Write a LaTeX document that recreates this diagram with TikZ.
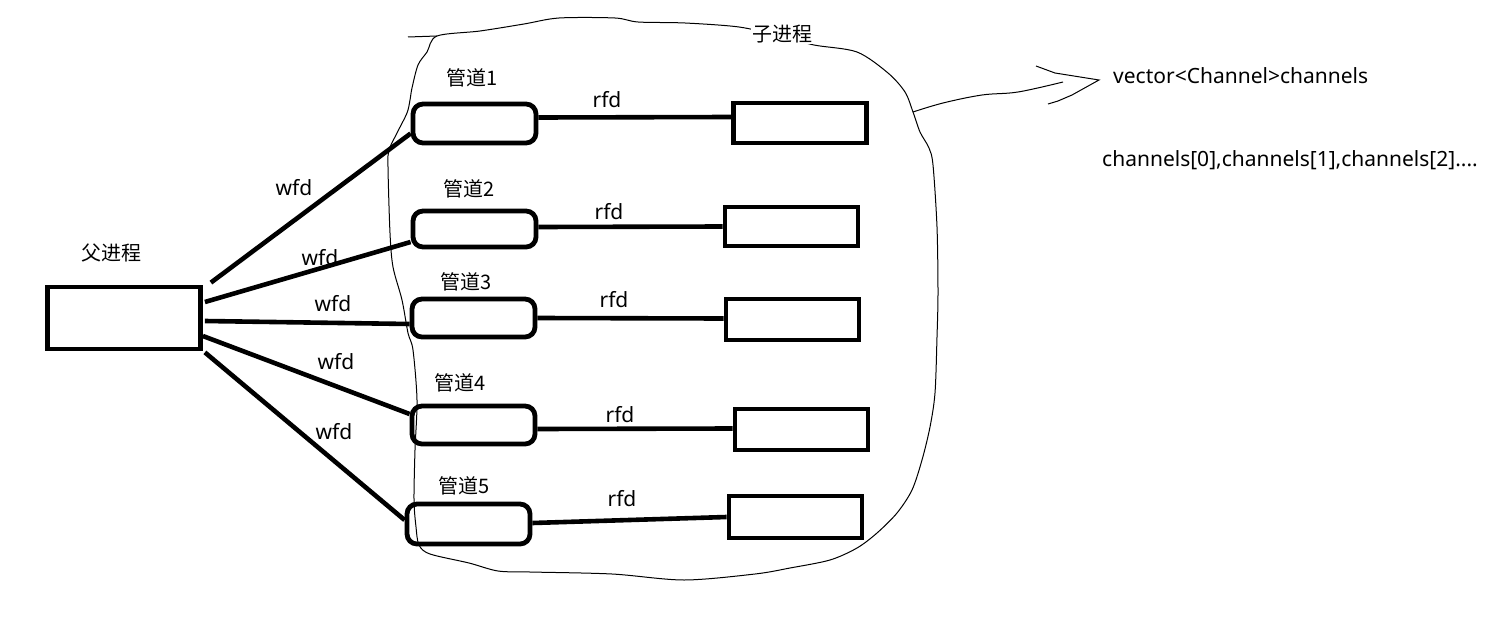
\documentclass[tikz,border=0pt]{standalone}
\usepackage{fontspec}
\setmainfont{Noto Sans}
\newfontfamily\cjk{Noto Sans CJK SC}
\begin{document}
\begin{tikzpicture}[x=1pt,y=-1pt,
  proc/.style={draw, line width=4.8pt, inner sep=0pt, minimum height=#1},
  pipe/.style={draw, line width=4.8pt, rounded corners=10pt, inner sep=0pt, minimum width=123pt, minimum height=#1},
  conn/.style={line width=4.6pt},
  thin line/.style={line width=1pt},
  lbl/.style={font=\fontsize{21}{24}\selectfont, inner sep=0pt},
  cn/.style={font=\cjk\fontsize{20}{24}\selectfont, inner sep=0pt}]
\useasboundingbox (0,0) rectangle (1491,626);
% blob (child processes)
\draw[thin line] plot[smooth cycle, tension=0.5] coordinates {
(437,36) (480,31) (524,24) (559,18) (615,18) (638,22) (685,23) (739,27) (780,36) (814,45) (857,52) (888,73) (905,92) (913,112) (920,132) (929,148) (933,165) (937,227) (938,293) (937,337) (935,393) (930,427) (922,460) (912,490) (897,513) (877,533) (857,548) (830,560) (790,568) (755,574) (684,580) (612,574) (530,572) (498,571) (469,563) (430,554) (419,545) (416,527) (414,500) (415,450) (417,400) (413,350) (408,333) (402,300) (393,267) (390,233) (388,167) (389,150) (397,133) (407,113) (410,100) (412,88) (418,65) (427,52)};
\draw[thin line] (408,37) -- (437,36);
% arrow
\coordinate (as) at (913,112);
\coordinate (tip) at (1099,80);
\draw[thin line] plot[smooth, tension=0.6] coordinates {(as) (943,103) (982,95) (1018,92) (1063,82)};
\draw[thin line] (1036,66) -- (1055,73) -- (tip) -- (1072,95) -- (1058,101) -- (1048,104);
% parent
\node[proc=62pt, minimum width=153pt] (par) at (124,318) {};
\node[cn] (parl) at (111,253) {父进程};
% pipes
\node[pipe=39pt] (p1) at (474.5,123.5) {};
\node[pipe=36pt] (p2) at (474.5,229) {};
\node[pipe=38pt] (p3) at (473.5,318) {};
\node[pipe=38pt] (p4) at (473.5,425) {};
\node[pipe=40pt] (p5) at (468.5,524) {};
\node[cn] (p1l) at (472,78) {管道1};
\node[cn] (p2l) at (469,189) {管道2};
\node[cn] (p3l) at (466,282) {管道3};
\node[cn] (p4l) at (460,383) {管道4};
\node[cn] (p5l) at (464,486) {管道5};
% children
\node[proc=40pt, minimum width=133pt] (c1) at (800,123) {};
\node[proc=39pt, minimum width=133pt] (c2) at (791.5,226.5) {};
\node[proc=41pt, minimum width=133pt] (c3) at (792.5,319.5) {};
\node[proc=41pt, minimum width=133pt] (c4) at (801.5,429.5) {};
\node[proc=42pt, minimum width=133pt] (c5) at (795.5,517) {};
\node[cn, fill=white, inner sep=1pt] (cl) at (782,34) {子进程};
% wfd connectors
\draw[conn] ([xshift=8pt,yshift=2pt]par.north east) -- ([yshift=-10pt]p1.west);
\draw[conn] ([xshift=2pt,yshift=16pt]par.east) -- ([yshift=-13pt]p2.west);
\draw[conn] ([xshift=2pt,yshift=-3pt]par.east) -- ([yshift=-6pt]p3.west);
\draw[conn] ([yshift=-18pt]par.east) -- ([yshift=11pt]p4.west);
\draw[conn] ([xshift=2pt,yshift=-1pt]par.south east) -- ([yshift=4pt]p5.west);
\node[lbl] (w1) at (294,188) {wfd};
\node[lbl] (w2) at (320,258) {wfd};
\node[lbl] (w3) at (333,304) {wfd};
\node[lbl] (w4) at (336,362) {wfd};
\node[lbl] (w5) at (334,432) {wfd};
% rfd connectors
\draw[conn] ([yshift=6pt]p1.east) -- ([yshift=6pt]c1.west);
\draw[conn] ([yshift=2pt]p2.east) -- (c2.west);
\draw[conn] (p3.east) -- ([yshift=1pt]c3.west);
\draw[conn] ([yshift=-4pt]p4.east) -- ([yshift=1pt]c4.west);
\draw[conn] ([yshift=1pt]p5.east) -- (c5.west);
\node[lbl] (r1) at (607,100) {rfd};
\node[lbl] (r2) at (609,212) {rfd};
\node[lbl] (r3) at (614,300) {rfd};
\node[lbl] (r4) at (620,415) {rfd};
\node[lbl] (r5) at (622,499) {rfd};
% right texts
\node[lbl, anchor=west] (vec) at (1113,76) {vector<Channel>channels};
\node[lbl, anchor=west] (chs) at (1102,160) {channels[0],channels[1],channels[2]....};
\end{tikzpicture}
\end{document}
